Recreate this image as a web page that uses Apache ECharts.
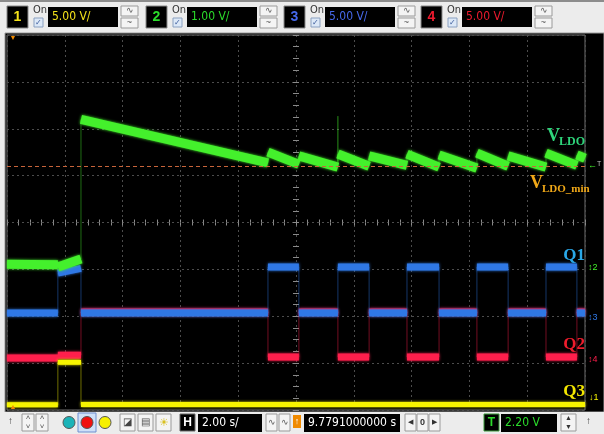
<!DOCTYPE html>
<html>
<head>
<meta charset="utf-8">
<script src="https://cdn.jsdelivr.net/npm/echarts@6/dist/echarts.min.js"></script>
<style>
html, body { margin: 0; padding: 0; background: #ececec; }
#scope { width: 604px; height: 434px; }
</style>
</head>
<body>
<div id="scope"></div>
<script>
// time of each level change, seconds (2 s/div, 10 div)
const edges = [0, 1.76, 2.56, 9.03, 10.10, 11.45, 12.53, 13.84, 14.95, 16.26, 17.34, 18.65, 19.72, 20];
// trace levels in screen divisions (0 = bottom, 8 = top), start / end of each segment
const vldoStart = [3.11, 3.05, 6.20, 5.50, 5.42, 5.46, 5.42, 5.46, 5.44, 5.48, 5.42, 5.48, 5.44];
const vldoEnd   = [3.10, 3.22, 5.27, 5.24, 5.18, 5.20, 5.22, 5.18, 5.16, 5.20, 5.18, 5.22, 5.37];
const q1Start   = [2.07, 2.92, 2.07, 3.05, 2.07, 3.05, 2.07, 3.05, 2.07, 3.05, 2.07, 3.05, 2.07];
const q1End     = [2.07, 3.02, 2.07, 3.05, 2.07, 3.05, 2.07, 3.05, 2.07, 3.05, 2.07, 3.05, 2.07];
const q2Level   = [1.11, 1.17, 2.09, 1.13, 2.09, 1.13, 2.09, 1.13, 2.09, 1.13, 2.09, 1.13, 2.09];
const q3Level   = [0.11, 1.02, 0.12, 0.12, 0.12, 0.12, 0.12, 0.12, 0.12, 0.12, 0.12, 0.12, 0.12];
const spikeTime = [11.45];
const spikeTop  = [6.27];
const ldoMin = 5.20;

const chLabels = ['1', '2', '3', '4'];
const chScales = ['5.00 V/', '1.00 V/', '5.00 V/', '5.00 V/'];
const chColors = ['#f4e21a', '#2bdc2b', '#4668ea', '#ec1a2e'];

const GREEN = '#44f02c', BLUE = '#2f78e6', RED = '#ff1f4c', YELLOW = '#f6f400';
const UI_FONT = '"Liberation Sans Narrow", "DejaVu Sans Condensed", sans-serif';
const SERIF = '"Liberation Serif", "DejaVu Serif", serif';

function bandData(start, end) {
  const d = [];
  for (let i = 0; i < start.length; i++) {
    d.push([edges[i], start[i]], [edges[i + 1], end[i]], [edges[i + 1], '-']);
  }
  return d;
}
function edgeData(start, end) {
  const d = [];
  for (let i = 0; i < start.length; i++) d.push([edges[i], start[i]], [edges[i + 1], end[i]]);
  return d;
}
function trace(color, width, start, end, extra) {
  return [
    { type: 'line', data: edgeData(start, end), symbol: 'none', silent: true,
      lineStyle: { color, width: 1, opacity: 0.45 } },
    Object.assign({ type: 'line', data: bandData(start, end), symbol: 'none', silent: true,
      lineStyle: { color, width, cap: 'butt', shadowBlur: 3, shadowColor: color } }, extra || {})
  ];
}

const chart = echarts.init(document.getElementById('scope'));

// instrument chrome
const els = [];
const rect = (x, y, w, h, fill, stroke, z) =>
  els.push({ type: 'rect', z: z || 1, shape: { x, y, width: w, height: h },
    style: { fill, stroke: stroke || null, lineWidth: 1 } });
const text = (x, y, t, fill, font, align, z) =>
  els.push({ type: 'text', z: z || 2, x, y,
    style: { text: t, fill, font, textAlign: align || 'left', textVerticalAlign: 'middle' } });

rect(0, 0, 604, 34, '#ececec', null, -10);
rect(0, 0, 604, 2, '#8c8c8c', null, -9);
rect(5, 33, 599, 379, '#000', '#9a9a9a', -10);
rect(0, 412, 604, 22, '#ececec', null, -10);

const headerX = [7, 146, 284, 421];
headerX.forEach((x0, i) => {
  rect(x0, 6, 21, 22, '#000', '#8a8a8a');
  text(x0 + 10.5, 17.5, chLabels[i], chColors[i], 'bold 14px sans-serif', 'center');
  text(x0 + 26, 10, 'On', '#333', '11px ' + UI_FONT);
  rect(x0 + 27, 18, 9, 9, '#dce8f7', '#8aa0c0');
  text(x0 + 31.5, 22.5, '✓', '#3a5a9a', '8px sans-serif', 'center');
  rect(x0 + 41, 7, 70, 20, '#000');
  text(x0 + 45, 17, chScales[i], chColors[i], '12px ' + UI_FONT);
  rect(x0 + 114, 6, 17, 10, '#f4f4f4', '#9a9a9a');
  rect(x0 + 114, 18, 17, 10, '#f4f4f4', '#9a9a9a');
  text(x0 + 122.5, 11, '∿', '#555', '9px sans-serif', 'center');
  text(x0 + 122.5, 23, '~', '#555', '9px sans-serif', 'center');
});

// bottom toolbar
text(8, 421, '↑', '#333', '10px sans-serif');
rect(22, 414, 12, 17, '#f4f4f4', '#9a9a9a');
rect(36, 414, 12, 17, '#f4f4f4', '#9a9a9a');
text(28, 418, '˄', '#555', '8px sans-serif', 'center');
text(28, 427, '˅', '#555', '8px sans-serif', 'center');
text(42, 418, '˄', '#555', '8px sans-serif', 'center');
text(42, 427, '˅', '#555', '8px sans-serif', 'center');
rect(78, 413, 18, 19, '#cfe0f8', '#6f8fd0');
els.push({ type: 'circle', z: 2, shape: { cx: 69, cy: 422.5, r: 6 }, style: { fill: '#1bb3b8', stroke: '#555' } });
els.push({ type: 'circle', z: 2, shape: { cx: 87, cy: 422.5, r: 6 }, style: { fill: '#f01010', stroke: '#555' } });
els.push({ type: 'circle', z: 2, shape: { cx: 105, cy: 422.5, r: 6 }, style: { fill: '#f6f000', stroke: '#555' } });
rect(120, 414, 15, 17, '#f4f4f4', '#9a9a9a');
rect(138, 414, 15, 17, '#f4f4f4', '#9a9a9a');
rect(156, 414, 15, 17, '#f4f4f4', '#9a9a9a');
text(127.5, 422.5, '◪', '#444', '10px sans-serif', 'center');
text(145.5, 422.5, '▤', '#555', '10px sans-serif', 'center');
text(163.5, 422.5, '☀', '#d8c020', '11px sans-serif', 'center');
rect(180, 414, 15, 17, '#000', '#666');
text(187.5, 422.5, 'H', '#fff', 'bold 12px sans-serif', 'center');
rect(198, 414, 64, 18, '#000');
text(202, 423, '2.00 s/', '#fff', '12px ' + UI_FONT);
rect(266, 414, 11, 17, '#f4f4f4', '#9a9a9a');
rect(279, 414, 11, 17, '#f4f4f4', '#9a9a9a');
text(271.5, 422.5, '∿', '#555', '9px sans-serif', 'center');
text(284.5, 422.5, '∿', '#555', '9px sans-serif', 'center');
rect(293, 415, 8, 13, '#f08a00');
text(297, 421.5, '↑', '#fff', 'bold 9px sans-serif', 'center');
rect(304, 414, 96, 18, '#000');
text(308, 423, '9.7791000000 s', '#fff', '12px ' + UI_FONT);
rect(405, 414, 11, 17, '#f4f4f4', '#9a9a9a');
rect(417, 414, 11, 17, '#f4f4f4', '#9a9a9a');
rect(429, 414, 11, 17, '#f4f4f4', '#9a9a9a');
text(410.5, 422.5, '◀', '#333', '7px sans-serif', 'center');
text(422.5, 422.5, '0', '#333', 'bold 9px sans-serif', 'center');
text(434.5, 422.5, '▶', '#333', '7px sans-serif', 'center');
rect(484, 414, 15, 17, '#000', '#3a9a3a');
text(491.5, 422.5, 'T', '#2bdc2b', 'bold 12px sans-serif', 'center');
rect(501, 414, 56, 18, '#000');
text(505, 423, '2.20 V', '#2bdc2b', '12px ' + UI_FONT);
rect(561, 414, 15, 17, '#f4f4f4', '#9a9a9a');
text(568.5, 418, '▲', '#333', '7px sans-serif', 'center');
text(568.5, 427, '▼', '#333', '7px sans-serif', 'center');
text(586, 421, '↑', '#333', '10px sans-serif');

// trigger markers and channel reference markers
text(13, 38, '▼', '#f08a00', '7px sans-serif', 'center', 5);
text(13, 407, '▲', '#f08a00', '7px sans-serif', 'center', 5);
text(588, 166, '←', GREEN, '9px sans-serif', 'left', 5);
text(597, 164, 'T', '#bbb', '7px sans-serif', 'left', 5);
text(588, 268, '↕2', GREEN, '9px sans-serif', 'left', 5);
text(588, 318, '↕3', BLUE, '9px sans-serif', 'left', 5);
text(588, 360, '↕4', RED, '9px sans-serif', 'left', 5);
text(589, 398, '↓1', YELLOW, '9px sans-serif', 'left', 5);

// trace annotations
text(547, 136, 'V', '#2ed47a', 'bold 18px ' + SERIF, 'left', 5);
text(559, 142, 'LDO', '#2ed47a', 'bold 12px ' + SERIF, 'left', 5);
text(530, 183, 'V', '#f0a818', 'bold 18px ' + SERIF, 'left', 5);
text(542, 189, 'LDO_min', '#f0a818', 'bold 11px ' + SERIF, 'left', 5);
text(585, 256, 'Q1', '#2aa8e8', 'bold 17px ' + SERIF, 'right', 5);
text(585, 345, 'Q2', '#ee1c2c', 'bold 17px ' + SERIF, 'right', 5);
text(585, 392, 'Q3', '#f3e600', 'bold 17px ' + SERIF, 'right', 5);

const centreTicks = (inside) => ({
  show: true, inside, length: 3, lineStyle: { color: '#8a8a8a' }
});

const option = {
  animation: false,
  backgroundColor: '#ececec',
  graphic: { elements: els },
  grid: { left: 7, top: 35, width: 578, height: 375, show: true, borderColor: '#6e6e6e',
    borderWidth: 1, backgroundColor: '#000' },
  xAxis: [
    { type: 'value', min: 0, max: 20, interval: 2, axisLine: { show: false }, axisTick: { show: false },
      axisLabel: { show: false }, splitLine: { show: true, lineStyle: { color: '#4c4c4c', type: [2, 3] } } },
    { type: 'value', min: 0, max: 20, interval: 0.4, position: 'bottom', offset: -187.5,
      axisLine: { show: false }, axisTick: centreTicks(false), axisLabel: { show: false }, splitLine: { show: false } },
    { type: 'value', min: 0, max: 20, interval: 0.4, position: 'bottom', offset: -187.5,
      axisLine: { show: false }, axisTick: centreTicks(true), axisLabel: { show: false }, splitLine: { show: false } }
  ],
  yAxis: [
    { type: 'value', min: 0, max: 8, interval: 1, axisLine: { show: false }, axisTick: { show: false },
      axisLabel: { show: false }, splitLine: { show: true, lineStyle: { color: '#4c4c4c', type: [2, 3] } } },
    { type: 'value', min: 0, max: 8, interval: 0.25, position: 'left', offset: -289,
      axisLine: { show: false }, axisTick: centreTicks(false), axisLabel: { show: false }, splitLine: { show: false } },
    { type: 'value', min: 0, max: 8, interval: 0.25, position: 'left', offset: -289,
      axisLine: { show: false }, axisTick: centreTicks(true), axisLabel: { show: false }, splitLine: { show: false } }
  ],
  series: [
    ...trace(RED, 7, q2Level, q2Level),
    ...trace(BLUE, 7, q1Start, q1End),
    ...trace(YELLOW, 5, q3Level, q3Level),
    { type: 'line', symbol: 'none', silent: true,
      data: spikeTime.flatMap((t, i) => [[t, spikeTop[i]], [t, 5.3], [t, '-']]),
      lineStyle: { color: GREEN, width: 1, opacity: 0.6 } },
    ...trace(GREEN, 9, vldoStart, vldoEnd, {
      markLine: { silent: true, symbol: 'none', label: { show: false },
        lineStyle: { color: '#c8643a', type: [4, 3], width: 1 }, data: [{ yAxis: ldoMin }] }
    })
  ]
};
chart.setOption(option);
</script>
</body>
</html>
